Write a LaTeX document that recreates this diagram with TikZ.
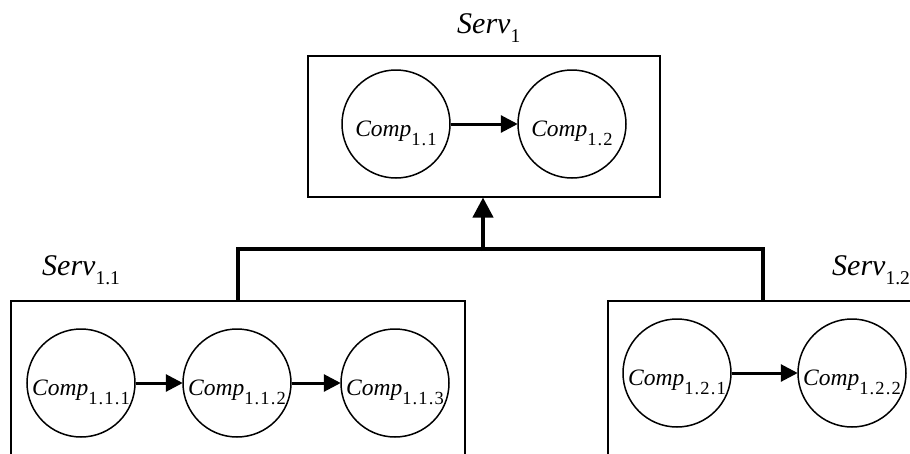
\documentclass[tikz,border=0pt]{standalone}
\usepackage{fontspec}
\setmainfont{Liberation Serif}
\usetikzlibrary{arrows.meta}

% italic name with a lowered upright index
\newcommand{\compname}[1]{{\fontsize{23.5}{28}\selectfont\itshape Comp}\raisebox{-9pt}{\fontsize{18.5}{20}\selectfont\addfontfeature{LetterSpace=6}#1}}
\newcommand{\servname}[1]{{\fontsize{30}{34}\selectfont\itshape Serv}\raisebox{-9pt}{\fontsize{19.5}{22}\selectfont #1}}

\tikzset{
  comp/.style={circle, draw, line width=1.5pt, minimum size=108pt, inner sep=0pt,
    label={[anchor=base, yshift=-9pt, inner sep=0pt]center:#1}},
  servbox/.style={rectangle, draw, line width=1.5pt, inner sep=0pt, anchor=north west},
  flow/.style={line width=3pt, -{Triangle[length=17pt,width=17pt]}, shorten >=-0.5pt},
  tree/.style={line width=4pt},
  uparrow/.style={line width=4pt, -{Triangle[length=20pt,width=20pt]}},
  servlabel/.style={inner sep=0pt, anchor=base west}
}

\begin{document}
\begin{tikzpicture}[x=1pt, y=-1pt]
  \useasboundingbox (0,0) rectangle (910,453);
  \clip (0,0) rectangle (910,453);

  % service containers
  \node[servbox, minimum width=352pt, minimum height=141pt] (s1) at (307,55) {};
  \node[servbox, minimum width=454pt, minimum height=180pt] (s11) at (10,300) {};
  \node[servbox, minimum width=320pt, minimum height=180pt] (s12) at (607,300) {};

  % service labels
  \node[servlabel] (l1) at (457,33) {\servname{1}};
  \node[servlabel] (l11) at (42,275) {\servname{1.1}};
  \node[servlabel] (l12) at (832,275) {\servname{1.2}};

  % components of Serv 1
  \node[comp={\compname{1.1}}] (c11) at (396,124) {};
  \node[comp={\compname{1.2}}] (c12) at (572,124) {};
  \draw[flow] (c11) -- (c12);

  % components of Serv 1.1
  \node[comp={\compname{1.1.1}}] (c111) at (81,383) {};
  \node[comp={\compname{1.1.2}}] (c112) at (237,383) {};
  \node[comp={\compname{1.1.3}}] (c113) at (395,383) {};
  \draw[flow] (c111) -- (c112);
  \draw[flow] (c112) -- (c113);

  % components of Serv 1.2
  \node[comp={\compname{1.2.1}}] (c121) at (677,373) {};
  \node[comp={\compname{1.2.2}}] (c122) at (852,373) {};
  \draw[flow] (c121) -- (c122);

  % composition tree joining the sub-services to Serv 1
  \coordinate (t11) at (238,249);
  \coordinate (t12) at (763,249);
  \coordinate (hub) at (483,249);
  \draw[tree] (t11 |- s11.north) -- (t11) -- (t12) -- (t12 |- s12.north);
  \draw[uparrow] ([yshift=-2pt]hub) -- (hub |- s1.south);
\end{tikzpicture}
\end{document}
